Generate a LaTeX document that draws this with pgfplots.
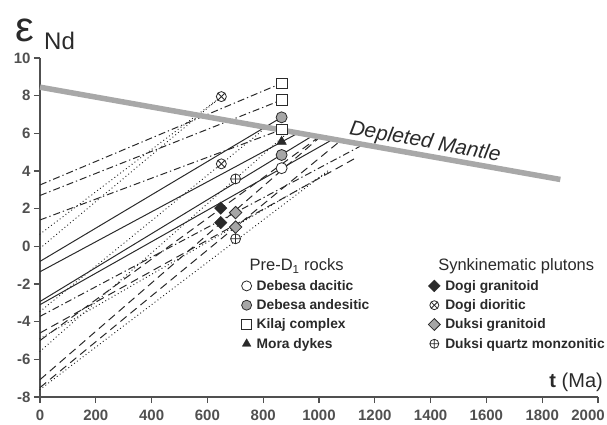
\documentclass[border=0pt]{standalone}
\usepackage{pgfplots}
\pgfplotsset{compat=1.18}
\usepackage{fontspec}
\setmainfont{Liberation Sans}
\definecolor{ink}{HTML}{2A2A2A}
\definecolor{dmgray}{HTML}{A8A8A8}
\definecolor{axgray}{HTML}{505050}
\definecolor{mgray}{HTML}{A6A6A6}
\tikzset{
  sl/.style={ink, line width=1pt},
  dd/.style={ink, line width=1pt, dash pattern=on 7pt off 3pt on 1.3pt off 3pt},
  ds/.style={ink, line width=1pt, dash pattern=on 8pt off 5pt},
  dt/.style={ink, line width=1.4pt, line cap=round, dash pattern=on 0.01pt off 3.6pt},
}
\begin{document}
\begin{tikzpicture}
\useasboundingbox (-40pt,-28pt) rectangle (567pt,397pt);
\begin{axis}[
  at={(0pt,0pt)}, anchor=south west,
  scale only axis, width=558pt, height=339pt,
  xmin=0, xmax=2000, ymin=-8, ymax=10,
  axis x line*=bottom, axis y line*=left,
  xtick={0,200,...,2000}, ytick={-8,-6,...,10},
  xticklabels={0,200,400,600,800,1000,1200,1400,1600,1800,\hspace*{-20pt}2000},
  tick align=outside, major tick length=6pt,
  axis line style={axgray, line width=1.4pt},
  every tick/.style={axgray, line width=1.2pt},
  tick label style={font=\fontsize{15}{17}\selectfont\bfseries, text=axgray},
  xticklabel style={yshift=-3pt},
  /pgf/number format/assume math mode=true,
  /pgf/number format/1000 sep={},
  clip=false,
  legend image code/.code={\draw[#1] plot coordinates {(0pt,0pt)};},
  legend columns=2,
  legend cell align=left,
  legend style={draw=none, fill=none, inner sep=0pt,
    at={(axis cs:722,-0.55)}, anchor=north west,
    font=\fontsize{13.8}{15.5}\selectfont\bfseries, text=ink,
    row sep=3.8pt,
    /tikz/every odd column/.append style={column sep=3pt},
    /tikz/every even column/.append style={column sep=57pt}},
]
% evolution lines: dash-dot
\addplot[dd, forget plot] coordinates {(0,3.26) (866,8.66)};
\addplot[dd, forget plot] coordinates {(0,2.70) (866,7.77)};
\addplot[dd, forget plot] coordinates {(0,1.40) (866,6.20)};
\addplot[dd, forget plot] coordinates {(0,-3.72) (1161,5.42)};
% solid
\addplot[sl, forget plot] coordinates {(0,-0.80) (866,6.85)};
\addplot[sl, forget plot] coordinates {(0,-1.35) (926,6.02)};
\addplot[sl, forget plot] coordinates {(0,-2.93) (975,5.85)};
\addplot[sl, forget plot] coordinates {(0,-3.10) (1040,5.60)};
% dotted
\addplot[dt, forget plot] coordinates {(0,0.65) (650,7.95)};
\addplot[dt, forget plot] coordinates {(0,-0.10) (650,7.95)};
\addplot[dt, forget plot] coordinates {(0,-3.46) (811,6.32)};
\addplot[dt, forget plot] coordinates {(0,-5.58) (893,6.10)};
\addplot[dt, forget plot] coordinates {(0,-4.90) (1039,3.97)};
\addplot[dt, forget plot] coordinates {(0,-7.60) (1040,4.10)};
% dashed
\addplot[ds, forget plot] coordinates {(0,-4.60) (1140,4.76)};
\addplot[ds, forget plot] coordinates {(0,-5.00) (1002,5.83)};
\addplot[ds, forget plot] coordinates {(0,-7.08) (1005,5.82)};
\addplot[ds, forget plot] coordinates {(0,-7.50) (1079,5.63)};
% depleted mantle
\addplot[dmgray, line width=5.5pt, forget plot] coordinates {(0,8.45) (1865,3.55)};
% samples
\addplot[only marks, mark=square*, mark size=5.3pt, mark options={fill=white, draw=ink, line width=0.8pt}, forget plot]
  coordinates {(866,8.66) (866,7.77) (866,6.20)};
\addplot[only marks, mark=*, mark size=5.5pt, mark options={fill=mgray, draw=ink, line width=0.8pt}, forget plot]
  coordinates {(866,6.85) (866,4.85)};
\addplot[only marks, mark=triangle*, mark size=5.5pt, mark options={fill=ink, draw=ink}, forget plot]
  coordinates {(866,5.56)};
\addplot[only marks, mark=*, mark size=5.5pt, mark options={fill=white, draw=ink, line width=0.8pt}, forget plot]
  coordinates {(866,4.15)};
\addplot[only marks, mark=otimes*, mark size=5pt, mark options={fill=white, draw=ink, line width=0.8pt}, forget plot]
  coordinates {(650,7.95) (650,4.38)};
\addplot[only marks, mark=oplus*, mark size=5pt, mark options={fill=white, draw=ink, line width=0.8pt}, forget plot]
  coordinates {(701,3.58) (701,0.40)};
\addplot[only marks, mark=square*, mark size=4.4pt, mark options={rotate=45, fill=ink, draw=ink}, forget plot]
  coordinates {(648,2.03) (648,1.26)};
\addplot[only marks, mark=square*, mark size=4.4pt, mark options={rotate=45, fill=mgray, draw=ink, line width=0.8pt}, forget plot]
  coordinates {(701,1.79) (701,1.02)};
% legend
\addlegendimage{empty legend}
\addlegendentry{\hspace*{-7pt}\fontsize{16.5}{18}\selectfont\mdseries Pre-D\textsubscript{1} rocks}
\addlegendimage{empty legend}
\addlegendentry{\hspace*{-7pt}\fontsize{16.5}{18}\selectfont\mdseries Synkinematic plutons}
\addlegendimage{only marks, mark=*, mark size=5pt, mark options={fill=white, draw=ink, line width=0.8pt}}
\addlegendentry{Debesa dacitic}
\addlegendimage{only marks, mark=square*, mark size=4.2pt, mark options={rotate=45, fill=ink, draw=ink}}
\addlegendentry{Dogi granitoid}
\addlegendimage{only marks, mark=*, mark size=5pt, mark options={fill=mgray, draw=ink, line width=0.8pt}}
\addlegendentry{Debesa andesitic}
\addlegendimage{only marks, mark=otimes*, mark size=4.5pt, mark options={fill=white, draw=ink, line width=0.8pt}}
\addlegendentry{Dogi dioritic}
\addlegendimage{only marks, mark=square*, mark size=4.8pt, mark options={fill=white, draw=ink, line width=0.8pt}}
\addlegendentry{Kilaj complex}
\addlegendimage{only marks, mark=square*, mark size=4.2pt, mark options={rotate=45, fill=mgray, draw=ink, line width=0.8pt}}
\addlegendentry{Duksi granitoid}
\addlegendimage{only marks, mark=triangle*, mark size=5pt, mark options={fill=ink, draw=ink}}
\addlegendentry{Mora dykes}
\addlegendimage{only marks, mark=oplus*, mark size=4.5pt, mark options={fill=white, draw=ink, line width=0.8pt}}
\addlegendentry{Duksi quartz monzonitic}
\node[rotate=-10.1, font=\fontsize{21}{23}\selectfont\itshape, text=ink] at (axis cs:1380,5.52) {Depleted Mantle};
\end{axis}
\node[anchor=base west, font=\fontsize{42}{44}\selectfont, text=ink, inner sep=0pt] at (-25pt,355pt) {ε};
\node[anchor=base west, font=\fontsize{24}{26}\selectfont, text=ink, inner sep=0pt] at (4pt,347pt) {Nd};
\node[anchor=base east, font=\fontsize{20}{22}\selectfont, text=ink, inner sep=0pt] at (563pt,9.5pt) {\textbf{t} (Ma)};
\end{tikzpicture}
\end{document}
